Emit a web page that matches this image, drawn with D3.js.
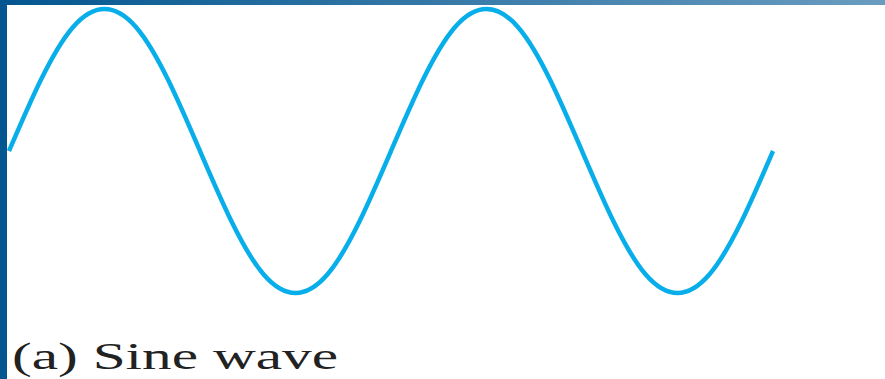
<!DOCTYPE html>
<html>
<head>
<meta charset="utf-8">
<script src="https://cdn.jsdelivr.net/npm/d3@7"></script>
<style>
  html, body { margin: 0; padding: 0; background: #fff; overflow: hidden; }
  svg { display: block; }
</style>
</head>
<body>
<svg id="chart" width="885" height="379"></svg>
<script>
// Phase positions (in periods) and amplitude values
const phase = [0, 0.0833, 0.1667, 0.25, 0.3333, 0.4167, 0.5, 0.5833, 0.6667, 0.75, 0.8333, 0.9167,
               1, 1.0833, 1.1667, 1.25, 1.3333, 1.4167, 1.5, 1.5833, 1.6667, 1.75, 1.8333, 1.9167, 2];
const amplitude = [0, 0.5, 0.87, 1, 0.87, 0.5, 0, -0.5, -0.87, -1, -0.87, -0.5,
                   0, 0.5, 0.87, 1, 0.87, 0.5, 0, -0.5, -0.87, -1, -0.87, -0.5, 0];
const caption = "(a) Sine wave";

const svg = d3.select("#chart");

// gradient for top bar
const defs = svg.append("defs");
const grad = defs.append("linearGradient").attr("id", "topGrad")
  .attr("x1", "0%").attr("x2", "100%").attr("y1", "0%").attr("y2", "0%");
grad.append("stop").attr("offset", "0%").attr("stop-color", "#03568f");
grad.append("stop").attr("offset", "100%").attr("stop-color", "#6a9cc0");

svg.append("rect").attr("x", 0).attr("y", 0).attr("width", 885).attr("height", 5).attr("fill", "url(#topGrad)");
svg.append("rect").attr("x", 0).attr("y", 0).attr("width", 7).attr("height", 379).attr("fill", "#03568f");

const x = d3.scaleLinear().domain([0, 2]).range([9, 773]);
const y = d3.scaleLinear().domain([-1, 1]).range([293, 9]);

const data = phase.map((p, i) => ({ p, v: amplitude[i] }));

const line = d3.line()
  .x(d => x(d.p))
  .y(d => y(d.v))
  .curve(d3.curveNatural);

svg.append("path")
  .datum(data)
  .attr("d", line)
  .attr("fill", "none")
  .attr("stroke", "#08aeea")
  .attr("stroke-width", 4.5)
  .attr("stroke-linejoin", "round");

svg.append("text")
  .attr("x", 12)
  .attr("y", 369)
  .attr("font-family", "'Liberation Serif', 'Times New Roman', serif")
  .attr("font-size", 37)
  .attr("fill", "#222")
  .attr("textLength", 326)
  .attr("lengthAdjust", "spacingAndGlyphs")
  .text(caption);
</script>
</body>
</html>
